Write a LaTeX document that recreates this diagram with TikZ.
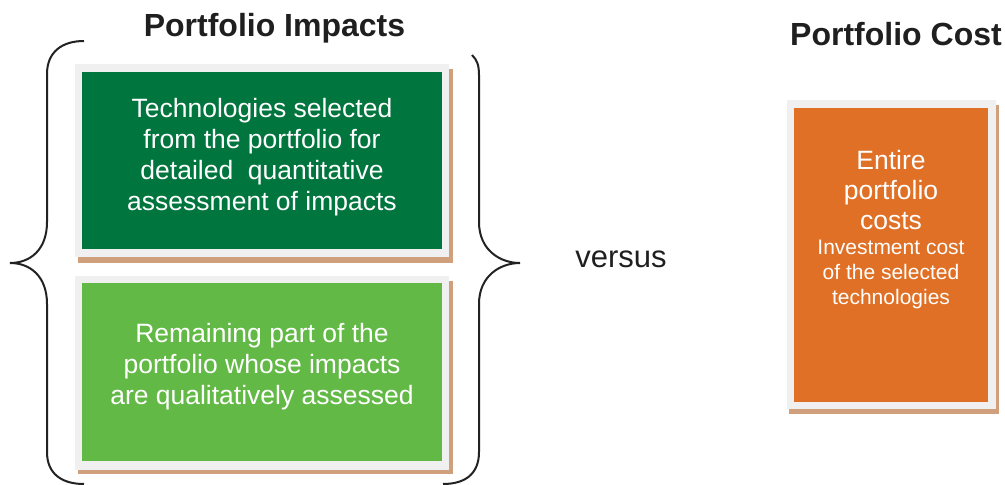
\documentclass[tikz,border=0pt]{standalone}
\usepackage{fontspec}
\setmainfont{Liberation Sans}
\definecolor{dkgreen}{RGB}{0,117,62}
\definecolor{ltgreen}{RGB}{98,185,70}
\definecolor{orangefill}{RGB}{224,112,38}
\definecolor{framegray}{RGB}{240,240,240}
\definecolor{tanshadow}{RGB}{208,160,124}
\definecolor{bracecol}{RGB}{34,34,34}
\begin{document}
\begin{tikzpicture}[x=1pt,y=-1pt,
  shadowrect/.style={fill=tanshadow},
  framerect/.style={fill=framegray},
  boxnode/.style={inner sep=0pt, outer sep=0pt, draw=none},
  bodytext/.style={text=white, align=center, inner sep=0pt, font=\fontsize{26.5}{31}\selectfont},
  smalltext/.style={text=white, align=center, inner sep=0pt, font=\fontsize{21}{25}\selectfont},
  titletext/.style={inner sep=0pt, anchor=base, font=\fontsize{32}{38}\selectfont\bfseries, text=black!88},
  brace/.style={draw=bracecol, line width=2pt}]
\useasboundingbox (0,0) rectangle (1005,485);
% titles
\node[titletext] (t1) at (274.5,36) {Portfolio Impacts};
\node[titletext] (t2) at (896,45) {Portfolio Cost};
% top box
\fill[shadowrect] (78,69) rectangle (453,263);
\fill[framerect] (75,64) rectangle (449,257);
\node[boxnode, fill=dkgreen, minimum width=360pt, minimum height=177pt] (topbox) at (262,160.5) {};
\node[bodytext] (toptext) at (262,157.5) {Technologies selected\\from the portfolio for\\detailed\ \ quantitative\\assessment of impacts};
% bottom box
\fill[shadowrect] (78,281) rectangle (453,474);
\fill[framerect] (75,276) rectangle (449,470);
\node[boxnode, fill=ltgreen, minimum width=360pt, minimum height=178pt] (botbox) at (262,372) {};
\node[bodytext] (bottext) at (262,367) {Remaining part of the\\portfolio whose impacts\\are qualitatively assessed};
% orange box
\fill[shadowrect] (789,105) rectangle (999,414);
\fill[framerect] (787,100) rectangle (996,409);
\node[boxnode, fill=orangefill, minimum width=194pt, minimum height=294pt] (costbox) at (891,255) {};
\node[bodytext, font=\fontsize{26.5}{30}\selectfont] (costtext) at (891,190) {Entire\\portfolio\\costs};
\node[smalltext] (costsub) at (891,274) {Investment cost\\of the selected\\technologies};
% versus
\node[inner sep=0pt, font=\fontsize{31}{36}\selectfont, text=black!88] (vs) at (621,259) {versus};
% braces
\draw[brace] (84,41) .. controls (62,41) and (47,52) .. (47,74) -- (47,222)
  .. controls (47,250) and (30,263) .. (10,263)
  .. controls (30,263) and (47,276) .. (47,304) -- (47,452)
  .. controls (47,474) and (62,484) .. (84,484);
\draw[brace] (472,55) .. controls (477,60) and (479,65) .. (479,75) -- (479,222)
  .. controls (479,250) and (500,263) .. (520,263)
  .. controls (500,263) and (479,276) .. (479,304) -- (479,452)
  .. controls (479,474) and (465,484) .. (443,484);
\end{tikzpicture}
\end{document}
